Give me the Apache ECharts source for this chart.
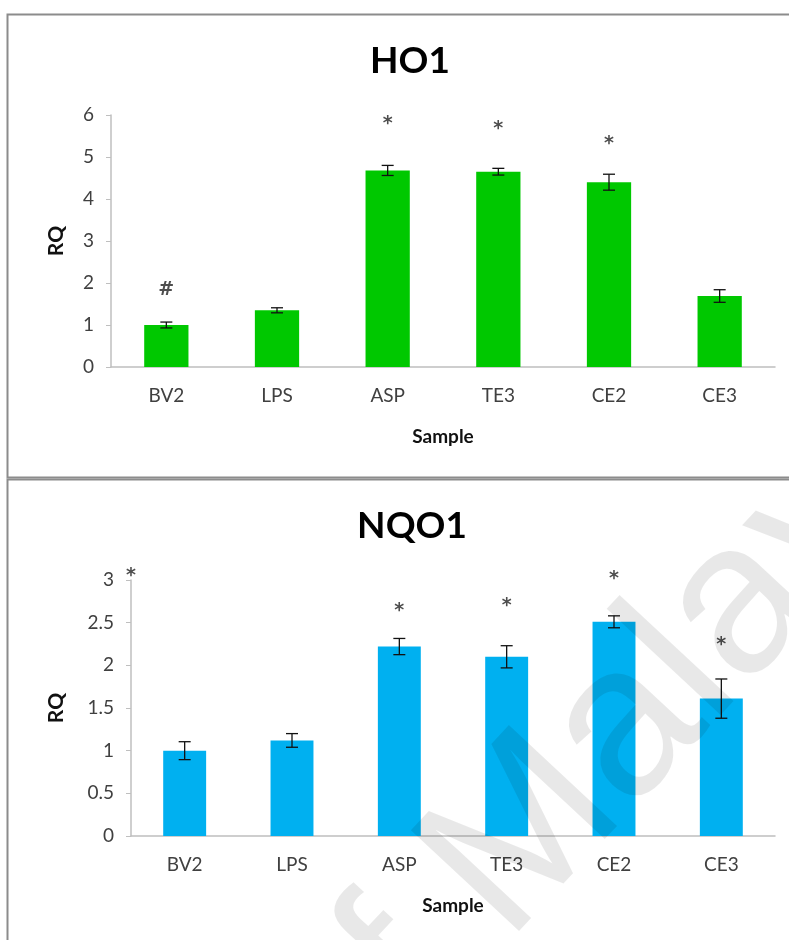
<!DOCTYPE html>
<html>
<head>
<meta charset="utf-8">
<script src="https://cdn.jsdelivr.net/npm/echarts@6/dist/echarts.min.js"></script>
<style>
  html, body { margin: 0; padding: 0; background: #fff; }
  #chart { width: 789px; height: 940px; }
</style>
</head>
<body>
<div id="chart"></div>
<script>
const samples = ['BV2', 'LPS', 'ASP', 'TE3', 'CE2', 'CE3']

// HO1 panel
const hoValues = [1.0, 1.35, 4.68, 4.65, 4.40, 1.69]
const hoErrors = [0.07, 0.06, 0.12, 0.08, 0.19, 0.15]
const hoMarkText = ['#', '', '*', '*', '*', '']
const hoMarkY = [1.83, null, 5.79, 5.67, 5.31, null]

// NQO1 panel
const nqValues = [1.0, 1.12, 2.22, 2.10, 2.51, 1.61]
const nqErrors = [0.105, 0.08, 0.095, 0.13, 0.07, 0.23]
const nqMarkText = ['', '', '*', '*', '*', '*']
const nqMarkY = [null, null, 2.64, 2.70, 3.01, 2.24]
const nqAxisStarY = 3.05

const FONT = 'Lato'
const chart = echarts.init(document.getElementById('chart'))

const errorSeries = (values, errs, idx) => ({
  type: 'custom',
  xAxisIndex: idx * 2,
  yAxisIndex: idx,
  z: 10,
  silent: true,
  data: values.map((v, i) => [i, v - errs[i], v + errs[i]]),
  renderItem: (params, api) => {
    const lo = api.coord([api.value(0), api.value(1)])
    const hi = api.coord([api.value(0), api.value(2)])
    const hw = 6
    const st = { stroke: '#111', lineWidth: 1.3 }
    return {
      type: 'group',
      children: [
        { type: 'line', shape: { x1: lo[0], y1: lo[1], x2: hi[0], y2: hi[1] }, style: st },
        { type: 'line', shape: { x1: lo[0] - hw, y1: lo[1], x2: lo[0] + hw, y2: lo[1] }, style: st },
        { type: 'line', shape: { x1: hi[0] - hw, y1: hi[1], x2: hi[0] + hw, y2: hi[1] }, style: st },
      ],
    }
  },
})

// significance marks sit on a hidden 0..6 value axis so they can also land on the y axis
const markSeries = (texts, ys, idx, extra = []) => ({
  type: 'scatter',
  xAxisIndex: idx * 2 + 1,
  yAxisIndex: idx,
  symbolSize: 0,
  clip: false,
  z: 11,
  silent: true,
  data: texts
    .map((t, i) => (t ? { value: [i + 0.5, ys[i]], txt: t } : null))
    .filter(Boolean)
    .concat(extra),
  label: {
    show: true,
    position: 'inside',
    formatter: (p) => p.data.txt,
    color: '#222',
    fontFamily: 'DejaVu Sans',
    fontWeight: 'bold',
    fontSize: 19,
  },
})

const catAxis = (grid) => ({
  type: 'category',
  gridIndex: grid,
  data: samples,
  name: 'Sample',
  nameLocation: 'middle',
  nameGap: 60,
  nameTextStyle: { fontFamily: FONT, fontWeight: 'bold', fontSize: 19, color: '#111' },
  axisLine: { lineStyle: { color: '#bfbfbf', width: 1.5 } },
  axisTick: { show: false },
  axisLabel: { fontFamily: FONT, fontSize: 19, color: '#404040', margin: 19 },
})

const hiddenAxis = (grid) => ({
  type: 'value', gridIndex: grid, min: 0, max: 6, show: false,
})

const valAxis = (grid, max, interval) => ({
  type: 'value',
  gridIndex: grid,
  min: 0,
  max,
  interval,
  name: 'RQ',
  nameLocation: 'middle',
  nameGap: grid === 0 ? 44 : 64,
  nameTextStyle: { fontFamily: FONT, fontWeight: 'bold', fontSize: 21, color: '#111' },
  axisLine: { show: true, lineStyle: { color: '#bfbfbf', width: 1.5 } },
  axisTick: { show: true, length: 5, lineStyle: { color: '#bfbfbf' } },
  splitLine: { show: false },
  axisLabel: { fontFamily: FONT, fontSize: 19, color: '#404040', margin: 17 },
})

chart.setOption({
  animation: false,
  title: [
    { text: 'HO1', left: 405, top: 38, textAlign: 'center',
      textStyle: { fontFamily: FONT, fontWeight: 'bold', fontSize: 37, color: '#000' } },
    { text: 'NQO1', left: 407, top: 503, textAlign: 'center',
      textStyle: { fontFamily: FONT, fontWeight: 'bold', fontSize: 37, color: '#000' } },
  ],
  grid: [
    { left: 111, right: 14, top: 115, height: 252 },
    { left: 131, right: 14, top: 580, height: 256 },
  ],
  xAxis: [catAxis(0), hiddenAxis(0), catAxis(1), hiddenAxis(1)],
  yAxis: [valAxis(0, 6, 1), valAxis(1, 3, 0.5)],
  series: [
    {
      type: 'bar', xAxisIndex: 0, yAxisIndex: 0, data: hoValues,
      barWidth: '40%', itemStyle: { color: '#00c800' },
    },
    errorSeries(hoValues, hoErrors, 0),
    markSeries(hoMarkText, hoMarkY, 0),
    {
      type: 'bar', xAxisIndex: 2, yAxisIndex: 1, data: nqValues,
      barWidth: '40%', itemStyle: { color: '#00b0f0' },
    },
    errorSeries(nqValues, nqErrors, 1),
    markSeries(nqMarkText, nqMarkY, 1, [{ value: [0, nqAxisStarY], txt: '*' }]),
  ],
  graphic: [
    { type: 'rect', shape: { x: 7.5, y: 14.5, width: 800, height: 463 },
      style: { fill: 'none', stroke: '#8c8c8c', lineWidth: 2 }, z: 1 },
    { type: 'rect', shape: { x: 7.5, y: 479.5, width: 800, height: 480 },
      style: { fill: 'none', stroke: '#8c8c8c', lineWidth: 2 }, z: 1 },
    { type: 'text', x: 222, y: 1005, rotation: Math.PI * 47 / 180, z: 100, silent: true,
      style: { text: 'of Malaya', font: '215px "Liberation Sans"', fill: 'rgba(0,0,0,0.09)' } },
  ],
})
</script>
</body>
</html>
